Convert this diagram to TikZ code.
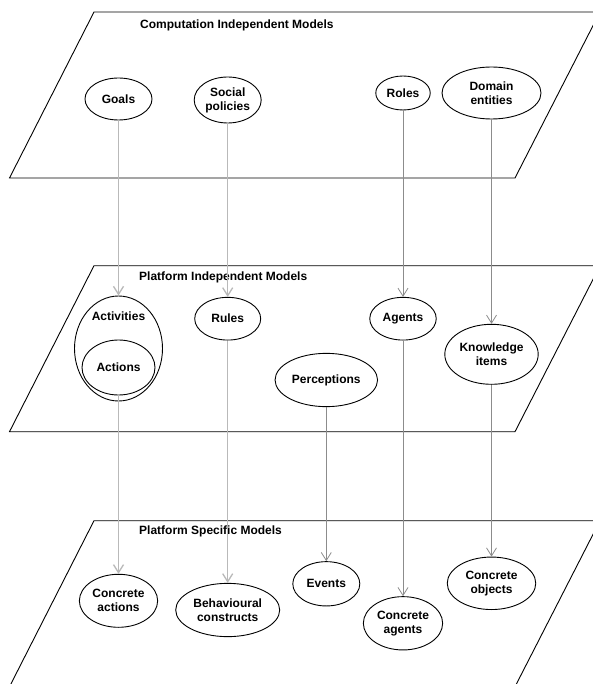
\documentclass[tikz,border=0pt]{standalone}
\usepackage{fontspec}
\setmainfont{Liberation Sans}
\usetikzlibrary{shapes.geometric,arrows.meta}
\begin{document}
\begin{tikzpicture}[x=1pt,y=-1pt,
  plane/.style={draw=black,line width=0.9pt,fill=white},
  ell/.style={ellipse,draw=black,line width=0.9pt,fill=white,inner sep=0pt,align=center,font=\fontsize{12}{14}\selectfont\bfseries},
  lbl/.style={font=\fontsize{12}{14}\selectfont\bfseries,inner sep=0pt},
  conn/.style={draw=gray!90,line width=0.8pt,-{Straight Barb[length=8pt,width=10pt]}},
  connlt/.style={conn,draw=gray!55,line width=1.3pt},
]
\useasboundingbox (0,0) rectangle (593,684);
\fill[white] (0,0) rectangle (593,684);

% planes
\draw[plane] (94,12) -- (600,12) -- (515,178) -- (9.5,178) -- cycle;
\draw[plane] (94,265.7) -- (600,265.7) -- (515,431.7) -- (9.5,431.7) -- cycle;
\draw[plane] (94,520.7) -- (600,520.7) -- (515,686.7) -- (9.5,686.7) -- cycle;

% plane labels
\node[lbl,anchor=base west] (cim) at (140,28.5) {Computation Independent Models};
\node[lbl,anchor=base west] (pim) at (139,280) {Platform Independent Models};
\node[lbl,anchor=base west] (psm) at (139,534) {Platform Specific Models};

% CIM
\node[ell,minimum width=67pt,minimum height=42pt] (goals) at (118.5,99) {Goals};
\node[ell,minimum width=67pt,minimum height=46pt] (social) at (227.7,100) {Social\\policies};
\node[ell,minimum width=54.5pt,minimum height=34pt] (roles) at (403,93) {Roles};
\node[ell,minimum width=99pt,minimum height=52pt] (domain) at (491.5,93) {Domain\\entities};

% PIM
\node[ell,minimum width=88pt,minimum height=105pt] (activities) at (118.5,348.5) {};
\node[lbl] (actlabel) at (118.5,316.7) {Activities};
\node[ell,minimum width=73pt,minimum height=55pt] (actions) at (118.5,367.5) {Actions};
\node[ell,minimum width=66pt,minimum height=42.7pt] (rules) at (227.7,318.7) {Rules};
\node[ell,minimum width=66.5pt,minimum height=42.7pt] (agents) at (403,318.7) {Agents};
\node[ell,minimum width=93.4pt,minimum height=60pt] (knowledge) at (491.5,354.3) {Knowledge\\items};
\node[ell,minimum width=102.5pt,minimum height=53.3pt] (perceptions) at (326.3,380) {Perceptions};

% PSM
\node[ell,minimum width=78.3pt,minimum height=53pt] (cactions) at (118.5,600.8) {Concrete\\actions};
\node[ell,minimum width=104pt,minimum height=53.3pt] (behav) at (227.7,610) {Behavioural\\constructs};
\node[ell,minimum width=67pt,minimum height=44.3pt] (events) at (326.3,583.8) {Events};
\node[ell,minimum width=79.3pt,minimum height=53.3pt] (cagents) at (403,623.3) {Concrete\\agents};
\node[ell,minimum width=88.5pt,minimum height=52.5pt] (cobjects) at (491.5,583.3) {Concrete\\objects};

% connectors
\draw[connlt] (goals.south) -- (activities.north);
\draw[connlt] (social.south) -- (rules.north);
\draw[conn] (roles.south) -- (agents.north);
\draw[conn] (domain.south) -- (knowledge.north);
\draw[connlt] (actions.south) -- (cactions.north);
\draw[connlt] (rules.south) -- (behav.north);
\draw[conn] (perceptions.south) -- (events.north);
\draw[conn] (agents.south) -- (cagents.north);
\draw[conn] (knowledge.south) -- (cobjects.north);
\end{tikzpicture}
\end{document}
